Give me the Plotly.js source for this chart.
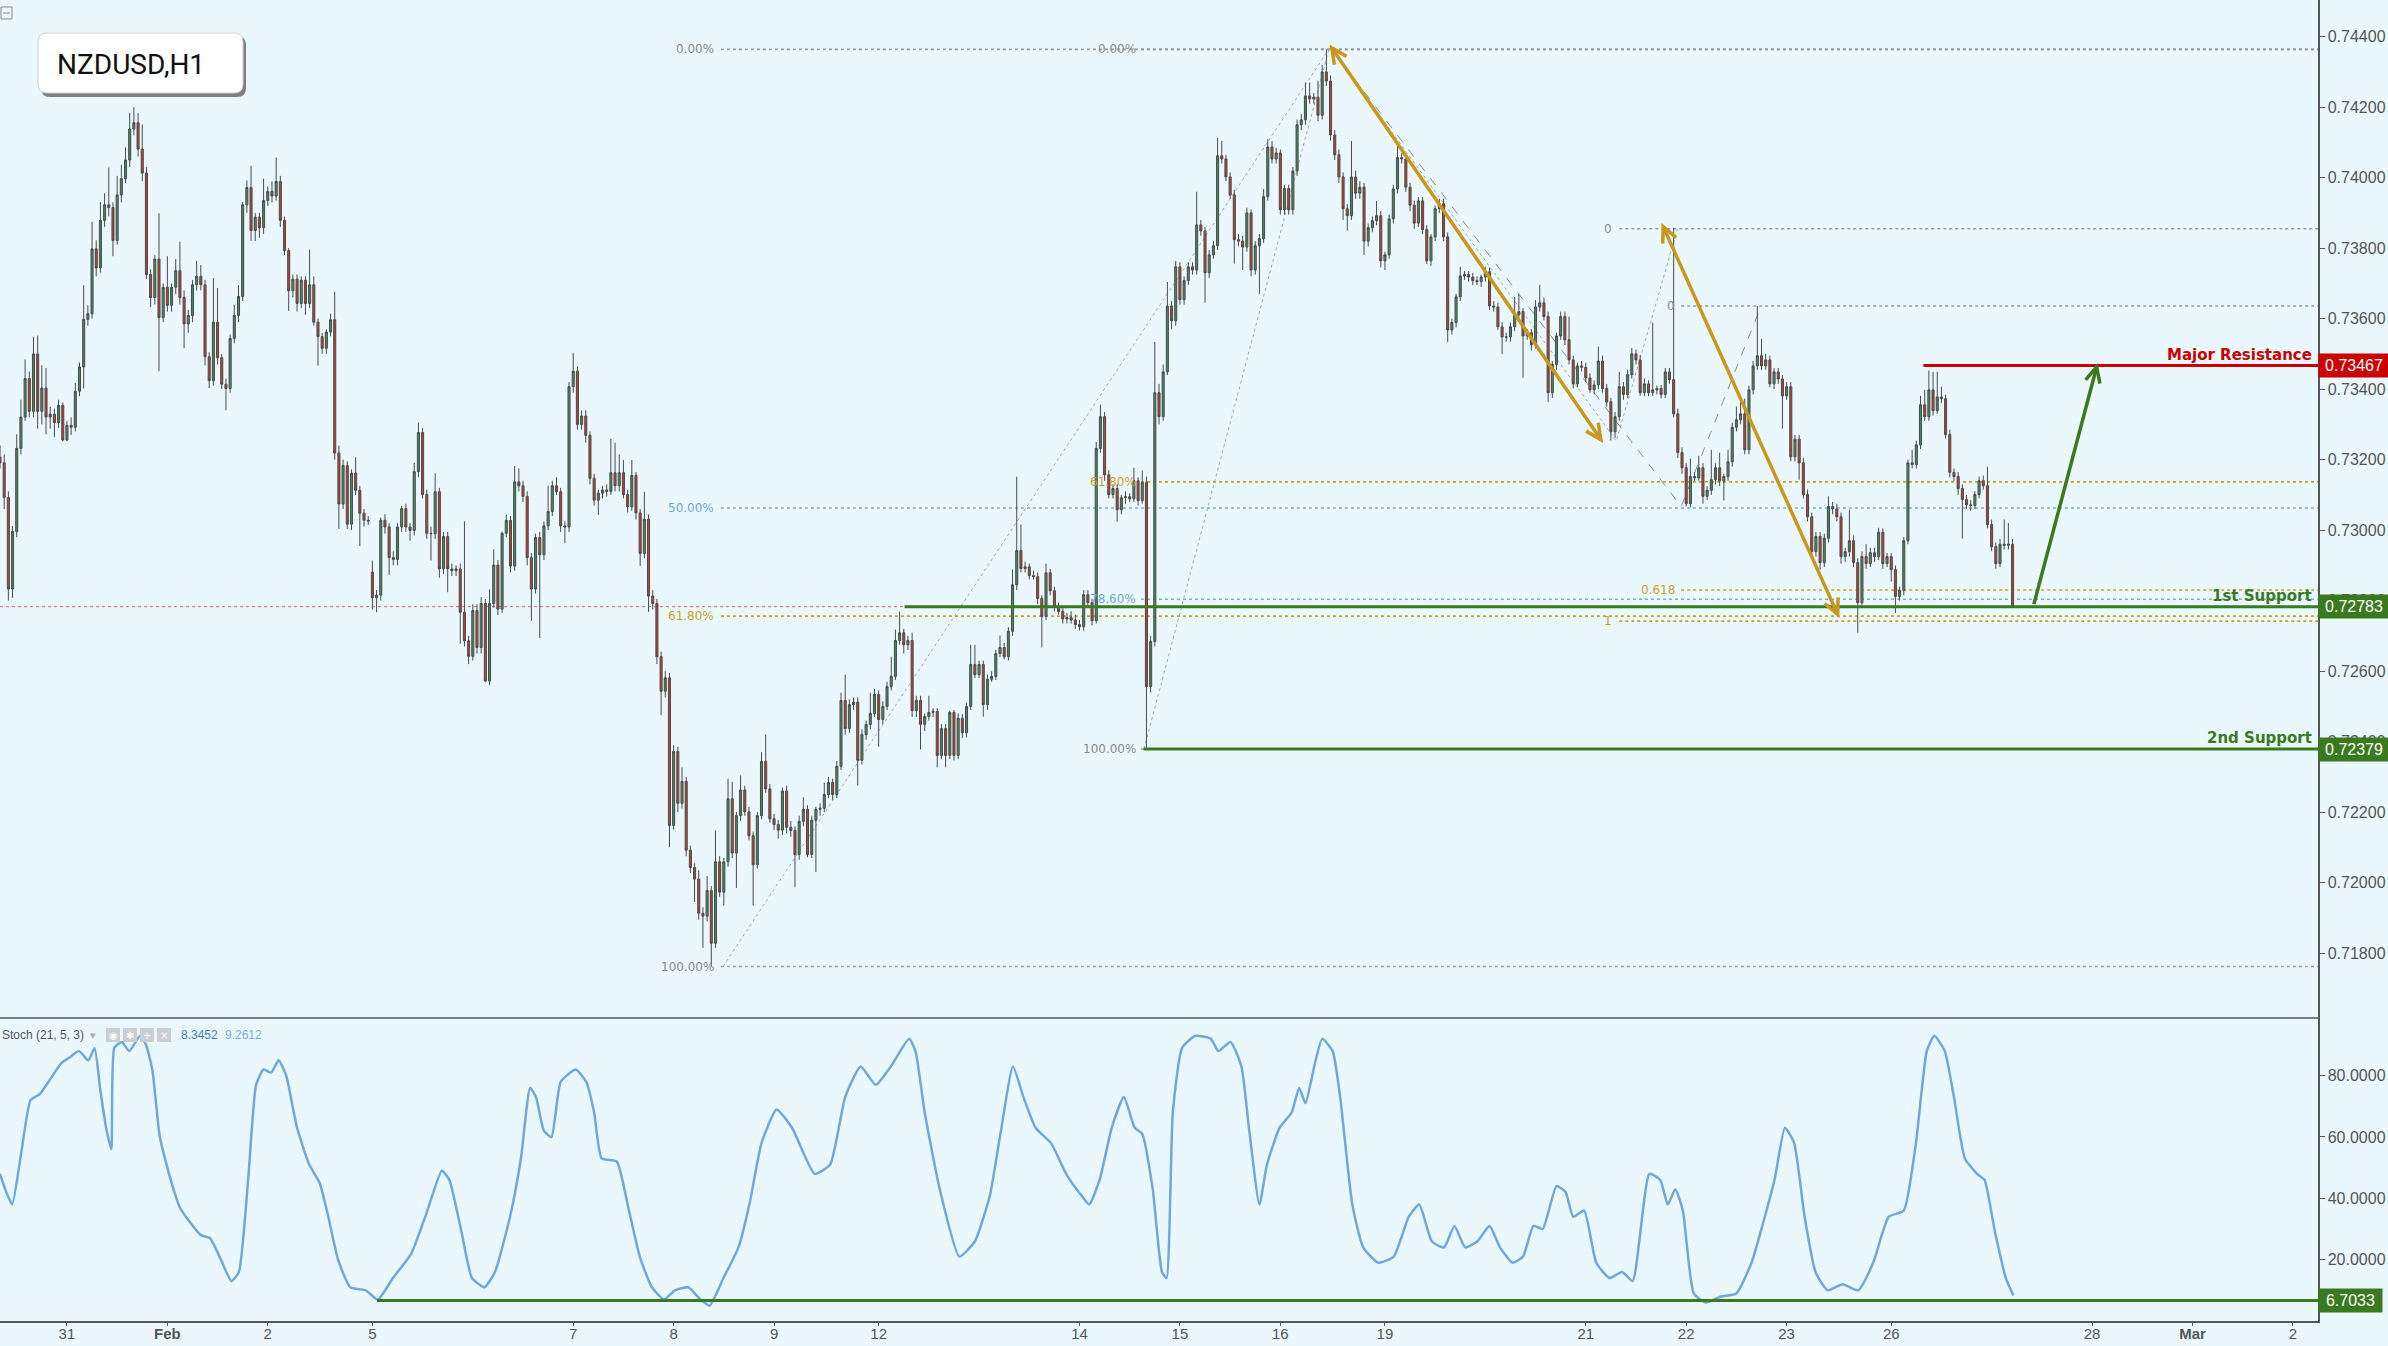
<!DOCTYPE html>
<html><head><meta charset="utf-8">
<script src="https://cdn.plot.ly/plotly-3.0.1.min.js"></script>
<style>html,body{margin:0;padding:0;background:#eaf8fe;overflow:hidden}#chart{width:2388px;height:1346px}</style>
</head><body><div id="chart"></div>
<script>
// ---------------- DATA (NZDUSD, H1) ----------------
const barOpen = [
.73207,.73191,.73093,.72833,.72996,.73232,.73321,.73430,.73337,.73500,
.73337,.73403,.73321,.73329,.73305,.73354,.73256,.73297,.73292,.73394,
.73463,.73598,.73614,.73798,.73744,.73879,.73923,.73915,.73822,.73951,
.73997,.74050,.74138,.74156,.74081,.74013,.73725,.73660,.73769,.73603,
.73689,.73638,.73689,.73736,.73660,.73585,.73609,.73696,.73720,.73696,
.73492,.73424,.73590,.73489,.73414,.73402,.73544,.73609,.73663,.73923,
.73972,.73850,.73888,.73858,.73935,.73961,.73948,.73989,.73879,.73793,
.73679,.73712,.73643,.73709,.73643,.73696,.73590,.73549,.73516,.73562,
.73597,.73219,.73074,.73183,.73017,.73162,.73113,.73048,.73028,.72881,
.72808,.72816,.73028,.73009,.72922,.72917,.73009,.73061,.73009,.72999,
.73166,.73277,.73101,.72991,.72990,.73109,.72890,.72982,.72890,.72885,
.72890,.72767,.72686,.72642,.72772,.72667,.72792,.72572,.72792,.72901,
.72776,.72991,.73028,.72898,.73137,.73126,.73096,.72922,.72833,.72979,
.72930,.73012,.73053,.73126,.73109,.73012,.73009,.73407,.73451,.73300,
.73324,.73269,.73147,.73085,.73105,.73114,
.73110,.73163,.73126,.73163,.73101,
.73066,.73155,.73049,.72934,.73031,.72813,.72792,.72641,.72543,.72581,
.72162,.72372,.72225,.72287,.72092,.72043,.72010,.71913,.71905,.71978,
.71828,.72059,.71973,.72059,.72238,.72084,.72190,.72263,.72201,.72133,
.72051,.72190,.72344,.72266,.72181,.72165,.72149,.72260,
.72157,.72148,.72080,.72174,.72208,.72080,.72177,.72208,.72211,.72250,
.72284,.72250,.72330,.72517,.72437,.72505,.72512,.72347,.72420,.72449,
.72480,.72534,.72463,.72500,.72556,.72585,.72687,.72709,.72675,.72687,
.72488,.72517,.72449,.72471,.72483,.72486,.72361,.72437,.72361,.72483,
.72361,.72466,.72425,.72500,.72619,.72590,.72619,.72505,.72577,.72585,
.72650,.72667,.72641,.72713,.72845,.72942,.72891,.72896,.72871,.72868,
.72806,.72755,.72879,.72828,.72782,.72769,.72748,.72752,
.72745,.72732,.72726,.72817,.72795,.72743,.73232,.73322,.73157,.73101,.73118,.73058,.73092,
.73095,.73089,.73140,.73084,
.73135,.72556,.72684,.73390,.73322,.73449,.73636,.73594,.73747,.73654,
.73708,.73747,.73738,.73866,.73849,.73730,.73781,.73807,.74062,.74053,
.74002,.73951,.73824,.73820,.73803,.73900,.73738,.73807,.73827,.73946,
.74087,.74053,.74070,.73909,.73969,.73909,.74019,.74150,.74164,.74232,
.74223,.74228,.74177,.74300,.74274,.74121,.74065,.74002,.73912,.73892,
.74002,.73956,.73973,.73820,.73858,.73878,.73892,.73764,.73781,.73883,
.73968,.74057,.74053,.73973,.73922,.73871,.73934,.73853,.73764,.73832,
.73912,.73926,.73832,.73568,.73589,.73662,.73721,.73725,.73718,.73708,
.73705,.73718,.73733,.73636,.73633,.73577,.73548,.73548,.73577,.73611,
.73620,.73551,.73560,.73526,.73633,.73645,.73606,.73390,.73470,.73551,
.73606,.73540,.73483,.73415,.73466,.73462,.73432,.73398,.73412,.73480,
.73402,.73364,.73279,.73322,.73407,.73385,.73441,.73500,.73483,.73390,
.73415,.73390,.73398,.73402,.73385,.73449,.73427,.73330,.73220,.73177,
.73075,.73152,.73148,.73177,.73096,.73113,.73143,.73177,.73140,.73152,
.73194,.73292,.73313,.73330,.73228,.73398,.73466,.73495,.73466,.73483,
.73415,.73449,.73429,.73381,.73407,.73208,.73258,.73191,.73101,.73038,
.72939,.72982,.72908,.72977,.73067,
.73060,.73038,.72925,.72939,.72970,.72908,.72794,.72925,.72905,.72936,
.72925,.72994,.72905,.72925,.72888,.72812,.72829,.72970,.73191,.73186,
.73242,.73356,.73322,.73398,.73339,.73378,.73373,.73271,.73164,.73152,
.73118,.73087,.73072,.73070,.73101,.73140,.73126,.73016,.72953,.72905,
.72960,.72957,.72960];

const barHigh = [
.73240,.73215,.73110,.73012,.73272,.73370,.73484,.73450,.73549,.73552,
.73468,.73460,.73350,.73345,.73370,.73362,.73310,.73320,.73418,.73476,
.73695,.73638,.73875,.73822,.73931,.73956,.74029,.73930,.74005,.74037,
.74086,.74184,.74200,.74184,.74151,.74030,.73740,.73780,.73899,.73700,
.73777,.73700,.73769,.73818,.73680,.73625,.73710,.73764,.73752,.73710,
.73505,.73715,.73687,.73500,.73430,.73555,.73639,.73695,.73931,.73992,
.74034,.73900,.73900,.73997,.73975,.73989,.74057,.74005,.73890,.73800,
.73725,.73725,.73720,.73720,.73796,.73720,.73600,.73560,.73570,.73614,
.73676,.73240,.73200,.73195,.73172,.73207,.73125,.73060,.73040,.72914,
.72830,.73036,.73045,.73020,.72940,.73020,.73069,.73075,.73020,.73191,
.73305,.73290,.73115,.73010,.73161,.73120,.72995,.72995,.72905,.72900,
.72905,.73025,.72700,.72790,.72790,.72810,.72805,.72832,.72946,.72915,
.72996,.73044,.73040,.73182,.73175,.73140,.73110,.72935,.72990,.72995,
.73025,.73126,.73140,.73150,.73120,.73025,.73420,.73503,.73465,.73340,
.73340,.73280,.73160,.73115,.73125,.73130,
.73259,.73248,.73215,.73199,.73115,
.73199,.73165,.73060,.73109,.73045,.72830,.72805,.72655,.72600,.72595,
.72390,.72385,.72327,.72300,.72105,.72055,.72035,.71930,.72019,.71990,
.72148,.72075,.72070,.72295,.72286,.72200,.72304,.72275,.72215,.72145,
.72200,.72370,.72420,.72280,.72195,.72178,.72270,.72275,
.72175,.72160,.72190,.72242,.72220,.72190,.72215,.72225,.72284,.72300,
.72295,.72345,.72539,.72590,.72520,.72525,.72525,.72435,.72460,.72539,
.72550,.72545,.72515,.72570,.72641,.72718,.72769,.72720,.72700,.72709,
.72530,.72530,.72480,.72530,.72495,.72495,.72450,.72450,.72488,.72490,
.72480,.72478,.72510,.72675,.72675,.72630,.72630,.72590,.72600,.72660,
.72701,.72680,.72725,.72888,.73152,.73016,.72910,.72905,.72885,.72880,
.72815,.72905,.72890,.72840,.72795,.72780,.72765,.72770,
.72760,.72745,.72830,.72830,.72805,.73250,.73356,.73335,.73170,.73130,.73130,.73100,.73110,
.73105,.73177,.73150,.73169,
.73152,.72700,.73534,.73415,.73470,.73704,.73650,.73764,.73760,.73720,
.73760,.73760,.73960,.73880,.73860,.73795,.73820,.74113,.74104,.74065,
.74015,.73965,.73840,.73835,.73915,.73910,.73820,.73840,.73968,.74109,
.74104,.74085,.74080,.73980,.73980,.74030,.74165,.74181,.74270,.74270,
.74240,.74275,.74320,.74364,.74290,.74135,.74080,.74015,.73925,.74104,
.74020,.73990,.73985,.73870,.73890,.73934,.73905,.73790,.73895,.73980,
.74096,.74070,.74065,.73985,.73935,.73945,.73945,.73865,.73840,.73920,
.73940,.73940,.73845,.73600,.73670,.73747,.73735,.73735,.73730,.73720,
.73725,.73747,.73745,.73650,.73645,.73590,.73560,.73590,.73662,.73670,
.73630,.73570,.73570,.73653,.73696,.73660,.73620,.73480,.73560,.73620,
.73620,.73606,.73495,.73475,.73480,.73475,.73445,.73425,.73521,.73495,
.73415,.73375,.73335,.73449,.73420,.73455,.73517,.73512,.73497,.73430,
.73425,.73589,.73410,.73412,.73460,.73460,.73858,.73345,.73235,.73190,
.73203,.73165,.73211,.73190,.73125,.73228,.73190,.73220,.73160,.73228,
.73305,.73351,.73364,.73373,.73410,.73480,.73636,.73543,.73500,.73495,
.73460,.73460,.73440,.73420,.73420,.73270,.73270,.73205,.73115,.73050,
.72995,.72995,.72990,.73096,.73080,
.73075,.73050,.72950,.73058,.72985,.72920,.72940,.72960,.72950,.72950,
.73007,.73005,.72935,.72935,.72900,.72840,.72980,.73200,.73228,.73254,
.73381,.73398,.73453,.73449,.73449,.73407,.73385,.73285,.73175,.73165,
.73130,.73100,.73085,.73110,.73152,.73155,.73180,.73030,.72965,.72975,
.73030,.73020,.72975];

const barLow = [
.73175,.73060,.72800,.72808,.72980,.73215,.73310,.73320,.73320,.73288,
.73300,.73272,.73288,.73264,.73290,.73252,.73252,.73270,.73280,.73380,
.73402,.73580,.73600,.73720,.73730,.73860,.73890,.73777,.73810,.73930,
.73985,.74030,.74120,.74060,.73990,.73712,.73633,.73640,.73451,.73590,
.73620,.73620,.73670,.73640,.73516,.73560,.73590,.73680,.73680,.73467,
.73403,.73410,.73470,.73400,.73340,.73390,.73530,.73590,.73650,.73900,
.73820,.73820,.73830,.73840,.73920,.73930,.73935,.73860,.73780,.73622,
.73660,.73620,.73630,.73611,.73630,.73580,.73467,.73500,.73500,.73550,
.73200,.73003,.73060,.73003,.73000,.73100,.72955,.73010,.73015,.72775,
.72767,.72800,.72990,.72873,.72900,.72900,.72995,.72995,.72970,.72985,
.73150,.73090,.72975,.72914,.72975,.72865,.72875,.72824,.72870,.72870,
.72678,.72670,.72620,.72630,.72650,.72650,.72569,.72560,.72780,.72760,
.72765,.72980,.72880,.72885,.73110,.73080,.72900,.72743,.72820,.72694,
.72915,.73000,.73040,.73100,.72995,.72963,.72995,.73390,.73285,.73285,
.73248,.73130,.73070,.73043,.73090,.73095,
.73100,.73110,.73110,.73090,.73050,
.73055,.73030,.72898,.72920,.72768,.72775,.72620,.72475,.72525,.72100,
.72150,.72200,.72210,.72075,.72027,.71945,.71895,.71815,.71890,.71762,
.71815,.71960,.71935,.72045,.72070,.71985,.72175,.72190,.72120,.71935,
.72040,.72180,.72255,.72170,.72150,.72125,.72135,.72140,
.72130,.71987,.72065,.72160,.72072,.72070,.72030,.72190,.72200,.72240,
.72235,.72240,.72320,.72420,.72425,.72490,.72276,.72335,.72405,.72435,
.72470,.72385,.72450,.72490,.72545,.72575,.72675,.72650,.72660,.72470,
.72470,.72378,.72430,.72460,.72470,.72327,.72350,.72327,.72350,.72347,
.72350,.72410,.72412,.72490,.72580,.72580,.72471,.72490,.72570,.72575,
.72640,.72633,.72630,.72700,.72830,.72880,.72880,.72860,.72860,.72790,
.72667,.72745,.72815,.72770,.72760,.72735,.72735,.72735,
.72720,.72715,.72715,.72780,.72730,.72735,.73220,.73140,.73090,.73090,.73024,.73045,.73075,
.73080,.73080,.73070,.73075,
.72379,.72540,.72670,.73300,.73310,.73440,.73570,.73580,.73640,.73640,
.73695,.73725,.73725,.73835,.73645,.73715,.73770,.73795,.74040,.73990,
.73940,.73756,.73805,.73738,.73790,.73720,.73725,.73670,.73815,.73935,
.74040,.74040,.73895,.73895,.73895,.73895,.74005,.74135,.74150,.74210,
.74210,.74160,.74165,.74260,.74105,.74050,.73985,.73880,.73850,.73880,
.73940,.73940,.73781,.73805,.73845,.73865,.73745,.73738,.73770,.73870,
.73955,.74040,.73960,.73905,.73855,.73860,.73840,.73755,.73750,.73820,
.73900,.73820,.73534,.73555,.73575,.73650,.73710,.73705,.73695,.73695,
.73690,.73705,.73625,.73620,.73568,.73500,.73535,.73535,.73565,.73600,
.73432,.73540,.73510,.73515,.73620,.73595,.73364,.73375,.73455,.73540,
.73525,.73470,.73402,.73405,.73450,.73420,.73390,.73385,.73400,.73390,
.73350,.73254,.73262,.73310,.73370,.73375,.73430,.73470,.73381,.73380,
.73380,.73380,.73385,.73373,.73375,.73415,.73320,.73205,.73160,.73067,
.73065,.73140,.73140,.73075,.73085,.73100,.73130,.73125,.73084,.73140,
.73180,.73280,.73300,.73215,.73215,.73385,.73455,.73455,.73455,.73405,
.73400,.73415,.73288,.73370,.73195,.73195,.73143,.73090,.73025,.72922,
.72925,.72888,.72895,.72965,.73045,
.73025,.72905,.72910,.72925,.72895,.72709,.72780,.72890,.72895,.72910,
.72915,.72890,.72895,.72854,.72765,.72800,.72815,.72960,.73175,.73175,
.73230,.73310,.73310,.73325,.73330,.73360,.73260,.73150,.73140,.73100,
.72976,.73060,.73055,.73060,.73090,.73115,.73005,.72940,.72890,.72895,
.72945,.72945,.72783];

const barClose = [
.73191,.73093,.72833,.72996,.73232,.73321,.73430,.73337,.73500,.73337,
.73403,.73321,.73329,.73305,.73354,.73256,.73297,.73292,.73394,.73463,
.73598,.73614,.73798,.73744,.73879,.73923,.73915,.73822,.73951,.73997,
.74050,.74138,.74156,.74081,.74013,.73725,.73660,.73769,.73603,.73689,
.73638,.73689,.73736,.73660,.73585,.73609,.73696,.73720,.73696,.73492,
.73424,.73590,.73489,.73414,.73402,.73544,.73609,.73663,.73923,.73972,
.73850,.73888,.73858,.73935,.73961,.73948,.73989,.73879,.73793,.73679,
.73712,.73643,.73709,.73643,.73696,.73590,.73549,.73516,.73562,.73597,
.73219,.73074,.73183,.73017,.73162,.73113,.73048,.73028,.73026,.72808,
.72816,.73028,.73009,.72922,.72917,.73009,.73061,.73009,.72999,.73166,
.73277,.73101,.72991,.72990,.73109,.72890,.72982,.72890,.72885,.72890,
.72767,.72686,.72642,.72772,.72667,.72792,.72572,.72792,.72901,.72776,
.72991,.73028,.72898,.73137,.73126,.73096,.72922,.72833,.72979,.72930,
.73012,.73053,.73126,.73109,.73012,.73009,.73407,.73451,.73300,.73324,
.73269,.73147,.73085,.73105,.73114,.73110,
.73163,.73126,.73163,.73101,.73066,
.73155,.73049,.72934,.73031,.72813,.72792,.72641,.72543,.72581,.72162,
.72372,.72225,.72287,.72092,.72043,.72010,.71913,.71905,.71978,.71828,
.72059,.71973,.72059,.72238,.72084,.72190,.72263,.72201,.72133,.72051,
.72190,.72344,.72266,.72181,.72165,.72149,.72260,.72157,
.72148,.72080,.72174,.72208,.72080,.72177,.72208,.72211,.72250,.72284,
.72250,.72330,.72517,.72437,.72505,.72512,.72347,.72420,.72449,.72480,
.72534,.72463,.72500,.72556,.72585,.72687,.72709,.72675,.72687,.72488,
.72517,.72449,.72471,.72483,.72486,.72361,.72437,.72361,.72483,.72361,
.72466,.72425,.72500,.72619,.72590,.72619,.72505,.72577,.72585,.72650,
.72667,.72641,.72713,.72845,.72942,.72891,.72896,.72871,.72868,.72806,
.72755,.72879,.72828,.72782,.72769,.72748,.72752,.72745,
.72732,.72726,.72817,.72795,.72743,.73232,.73322,.73157,.73101,.73118,.73058,.73092,.73095,
.73089,.73140,.73084,.73135,
.72556,.72684,.73390,.73322,.73449,.73636,.73594,.73747,.73654,.73708,
.73747,.73738,.73866,.73849,.73730,.73781,.73807,.74062,.74053,.74002,
.73951,.73824,.73820,.73803,.73900,.73738,.73807,.73827,.73946,.74087,
.74053,.74070,.73909,.73969,.73909,.74019,.74150,.74164,.74232,.74223,
.74228,.74177,.74300,.74274,.74121,.74065,.74002,.73912,.73892,.74002,
.73956,.73973,.73820,.73858,.73878,.73892,.73764,.73781,.73883,.73968,
.74057,.74053,.73973,.73922,.73871,.73934,.73853,.73764,.73832,.73912,
.73926,.73832,.73568,.73589,.73662,.73721,.73725,.73718,.73708,.73705,
.73718,.73733,.73636,.73633,.73577,.73548,.73548,.73577,.73611,.73620,
.73551,.73560,.73526,.73633,.73645,.73606,.73390,.73470,.73551,.73606,
.73540,.73483,.73415,.73466,.73462,.73432,.73398,.73412,.73480,.73402,
.73364,.73279,.73322,.73407,.73385,.73441,.73500,.73483,.73390,.73415,
.73390,.73398,.73402,.73385,.73449,.73427,.73330,.73220,.73177,.73075,
.73152,.73148,.73177,.73096,.73113,.73143,.73177,.73140,.73152,.73194,
.73292,.73313,.73330,.73228,.73398,.73466,.73495,.73466,.73483,.73415,
.73449,.73429,.73381,.73407,.73208,.73258,.73191,.73101,.73038,.72939,
.72982,.72908,.72977,.73067,.73060,
.73038,.72925,.72939,.72970,.72908,.72794,.72925,.72905,.72936,.72925,
.72994,.72905,.72925,.72888,.72812,.72829,.72970,.73191,.73186,.73242,
.73356,.73322,.73398,.73339,.73378,.73373,.73271,.73164,.73152,.73118,
.73087,.73072,.73070,.73101,.73140,.73126,.73016,.72953,.72905,.72960,
.72957,.72960,.72783];

// Stochastic (21,5,3): bar position -> value
const stochBar = [0,1.5,2.9,5.1,7.3,9.5,11.6,14.6,16.7,18.9,21.1,22.6,24,25.5,26.6,27.3,29.1,30.9,33.5,34.9,
36.4,38.2,40.8,43,45.5,48,50.2,52.8,55.3,57.1,59.3,61.2,63,64.8,66.6,68.4,71,73.9,76.4,78.3,
80.8,83.7,87.4,90.3,93.9,98.3,101.9,105.6,107.4,110.3,112.8,115.8,118.3,121.9,124.5,126.7,128.1,130,131.8,134,
137.6,140.1,142,143.8,147.4,150,152.9,155.8,158.7,161.3,164.5,167.4,169.6,172.9,176.5,179.1,182,185.6,189.3,194.7,
198.4,202,205.7,209.3,212.9,217.3,218.8,221,224.6,229.3,233,236.6,239.1,242.1,244.6,247.5,251.2,254.8,258.4,260.3,
262.8,265.7,268.6,271.2,273,275.5,277.7,278.8,280.3,282.5,285.7,289.4,291.2,294.1,296.7,298.5,301,302.8,305.8,308.7,
310.5,312,314.1,316,318.5,320.3,323.2,325.8,329.4,333.1,336.7,339.2,342.2,345.1,347.6,350.2,353.1,356,358.5,361.5,
364,366.5,368.7,372,374.2,376,378.6,381.5,384.7,387.7,390.2,394.2,396.8,398.6,400.4,402.2,404.8,407.7,411.3,415,
418.6,424.1,426.6,428.8,431.3,433.9,436.8,440.4,444.1,447.7,451.4,455,457.9,460.5,462.3,464.8,467,469.6,472.5,474.3,
476.8,479.4,481.2];
const stochK = [48,42,38,55,72,74,78,84,86,88,85,89,75,62,56,89,91,88,93,90,
82,60,46,37,32,28,27,20,13,16,46,77,82,81,85,80,63,51,45,35,
20,11,10,7,14,22,35,49,46,29,14,11,16,34,53,76,73,62,60,78,
82,78,68,53,52,38,21,11,7,10,11,7,5,14,24,38,58,69,63,48,
51,73,83,77,83,92,88,68,43,21,26,41,61,83,73,63,58,48,41,38,
46,63,73,63,61,43,16,14,68,89,93,92,88,91,83,63,38,51,63,68,
76,71,83,92,88,73,38,24,19,21,34,38,26,24,31,24,26,31,24,19,
21,31,30,44,42,34,36,19,14,16,13,48,46,38,43,36,9,6,8,9,
19,46,63,58,34,16,10,12,10,19,34,36,58,88,93,88,73,53,48,46,
29,14,8.3452];

const dayTickBars = [16,40,64,89,137,161,185,210,258,282,306,331,379,403,427,452,500,524,548];
const dayTickLabels = ['31','<b>Feb</b>','2','5','7','8','9','12','14','15','16','19','21','22','23','26','28','<b>Mar</b>','2'];
const priceTicks = [0.718,0.720,0.722,0.724,0.726,0.728,0.730,0.732,0.734,0.736,0.738,0.740,0.742,0.744];
const stochTicks = [20,40,60,80];

const majorResistance = 0.73467, firstSupport = 0.72783, secondSupport = 0.72379;
const stochLevel = 6.7033, lastPrice = 0.72783;
const resistanceFrom = 459.7, support1From = 216.2, support2From = 273.3, stochLevelFrom = 90.1;
const stochLegend = ['8.3452','9.2612'];

// Fibonacci tools: levels, labels, colour keys, start bar, label bar
const fibALevels = [0.74364,0.73063,0.72756,0.71762], fibALabels = ['0.00%','50.00%','61.80%','100.00%'], fibAColors = ['g','b','y','g'];
const fibBLevels = [0.74364,0.73137,0.72804,0.72379], fibBLabels = ['0.00%','61.80%','78.60%','100.00%'], fibBColors = ['g','y','b','g'];
const fibC1Levels = [0.73855,0.72742], fibC1Labels = ['0','1'], fibC1Colors = ['g','y'];
const fibC2Levels = [0.73636,0.72830], fibC2Labels = ['0','0.618'], fibC2Colors = ['g','y'];
const fibStarts = [172.3, 272.7, 387.0, 401.8];
const fibLabelAt = [171.1, 272.0, 385.8, 400.9];

// trend / anchor lines (bar, price)
const fibADiag = [[172.8,0.71762],[317.6,0.74364]];
const fibBDiag = [[273.4,0.72379],[317.6,0.74364]];
const fibC1Path = [[318.3,0.74364],[386.3,0.73253],[401.0,0.73858]];
const fibC2Path = [[318.3,0.74364],[401.8,0.73067],[420.9,0.73636]];
const goldArrow1 = [[318.3,0.74368],[382.6,0.73257]];
const goldArrow2 = [[397.5,0.73861],[439.2,0.72761]];
const greenArrow = [[486.1,0.72790],[501.1,0.73463]];

// ---------------- LAYOUT / DRAWING ----------------
const BG = '#eaf8fe';
const PLOT_W = 2318, PLOT_H = 1321, MAIN_H = 1018;
const SPLIT = 1 - MAIN_H / PLOT_H;
const X_RANGE = [0, 554];
const PRICE_RANGE = [0.71616, 0.74504];
const STOCH_RANGE = [0, 98.8];
const GREEN = '#3a7a1e', RED = '#cc0000', GOLD = '#c9971c';
const FIBC = {g:'#9a9a9a', b:'#78afe2', y:'#caa126'};
const LABC = {g:'#8a8a8a', b:'#6fa8dc', y:'#c9a227'};

const nBars = Math.min(barOpen.length, barHigh.length, barLow.length, barClose.length);
const barIndex = [];
for (let i = 0; i < nBars; i++) barIndex.push(i);

function toPx(x, p) {
  return [(x - X_RANGE[0]) / (X_RANGE[1] - X_RANGE[0]) * PLOT_W,
          (PRICE_RANGE[1] - p) / (PRICE_RANGE[1] - PRICE_RANGE[0]) * MAIN_H];
}
function fromPx(a, b) {
  return [X_RANGE[0] + a / PLOT_W * (X_RANGE[1] - X_RANGE[0]),
          PRICE_RANGE[1] - b / MAIN_H * (PRICE_RANGE[1] - PRICE_RANGE[0])];
}
function headPath(tip, tail, len, ang) {
  const t = toPx(tip[0], tip[1]), s = toPx(tail[0], tail[1]);
  const dx = s[0] - t[0], dy = s[1] - t[1], d = Math.hypot(dx, dy);
  const ux = dx / d, uy = dy / d;
  const w = [ang, -ang].map(a => {
    const c = Math.cos(a), sn = Math.sin(a);
    return fromPx(t[0] + len * (ux * c - uy * sn), t[1] + len * (ux * sn + uy * c));
  });
  return `M${w[0][0]},${w[0][1]} L${tip[0]},${tip[1]} L${w[1][0]},${w[1][1]}`;
}
function pathOf(pts) { return pts.map((p, i) => (i ? 'L' : 'M') + p[0] + ',' + p[1]).join(' '); }
function pp(x, y) { return [x / PLOT_W, 1 - y / PLOT_H]; }
function roundRect(x0, y0, x1, y1, r) {
  const P = (x, y) => { const q = pp(x, y); return q[0] + ',' + q[1]; };
  return `M${P(x0 + r, y0)} L${P(x1 - r, y0)} Q${P(x1, y0)} ${P(x1, y0 + r)} L${P(x1, y1 - r)} Q${P(x1, y1)} ${P(x1 - r, y1)} L${P(x0 + r, y1)} Q${P(x0, y1)} ${P(x0, y1 - r)} L${P(x0, y0 + r)} Q${P(x0, y0)} ${P(x0 + r, y0)} Z`;
}

const shapes = [];
const annotations = [];

// last price dotted line
shapes.push({type:'line', xref:'x', yref:'y', x0:X_RANGE[0], x1:X_RANGE[1], y0:lastPrice, y1:lastPrice, layer:'below',
  line:{color:'#e06060', width:1, dash:'dot'}});

// fib levels
[[fibALevels, fibALabels, fibAColors], [fibBLevels, fibBLabels, fibBColors],
 [fibC1Levels, fibC1Labels, fibC1Colors], [fibC2Levels, fibC2Labels, fibC2Colors]].forEach((f, k) => {
  f[0].forEach((lv, j) => {
    shapes.push({type:'line', xref:'x', yref:'y', x0:fibStarts[k], x1:X_RANGE[1], y0:lv, y1:lv, layer:'below',
      line:{color:FIBC[f[2][j]], width:1.6, dash:'dot'}});
    annotations.push({xref:'x', yref:'y', x:fibLabelAt[k], y:lv, xanchor:'right', yanchor:'middle', showarrow:false,
      text:f[1][j], font:{family:'DejaVu Sans', size:12, color:LABC[f[2][j]]}});
  });
});

// anchor diagonals
[fibADiag, fibBDiag, fibC1Path].forEach(p => shapes.push({type:'path', xref:'x', yref:'y', path:pathOf(p), layer:'below',
  line:{color:'#a8a8a8', width:1, dash:'dot'}, fillcolor:'rgba(0,0,0,0)'}));
shapes.push({type:'path', xref:'x', yref:'y', path:pathOf(fibC2Path), layer:'below',
  line:{color:'#8c8c8c', width:1, dash:'dash'}, fillcolor:'rgba(0,0,0,0)'});

// key levels
shapes.push({type:'line', xref:'x', yref:'y', x0:resistanceFrom, x1:X_RANGE[1], y0:majorResistance, y1:majorResistance, line:{color:RED, width:3}});
shapes.push({type:'line', xref:'x', yref:'y', x0:support1From, x1:X_RANGE[1], y0:firstSupport, y1:firstSupport, line:{color:GREEN, width:3}});
shapes.push({type:'line', xref:'x', yref:'y', x0:support2From, x1:X_RANGE[1], y0:secondSupport, y1:secondSupport, line:{color:GREEN, width:3}});
shapes.push({type:'line', xref:'x', yref:'y2', x0:stochLevelFrom, x1:X_RANGE[1], y0:stochLevel, y1:stochLevel, line:{color:GREEN, width:3}});

// arrows
function arrow(pts, color, width, both) {
  shapes.push({type:'line', xref:'x', yref:'y', x0:pts[0][0], y0:pts[0][1], x1:pts[1][0], y1:pts[1][1], line:{color, width}});
  shapes.push({type:'path', xref:'x', yref:'y', path:headPath(pts[1], pts[0], 17, 0.45), line:{color, width}, fillcolor:'rgba(0,0,0,0)'});
  if (both) shapes.push({type:'path', xref:'x', yref:'y', path:headPath(pts[0], pts[1], 17, 0.45), line:{color, width}, fillcolor:'rgba(0,0,0,0)'});
}
arrow(goldArrow1, GOLD, 3.5, true);
arrow(goldArrow2, GOLD, 3.5, true);
arrow(greenArrow, GREEN, 3.5, false);

// level labels
function levelLabel(txt, y, color) {
  annotations.push({xref:'paper', yref:'y', x:2313 / PLOT_W, y, xanchor:'right', yanchor:'bottom', showarrow:false,
    text:'<b>' + txt + '</b>', font:{family:'DejaVu Sans', size:15, color}, borderpad:0, yshift:1});
}
levelLabel('Major Resistance', majorResistance, RED);
levelLabel('1st Support', firstSupport, GREEN);
levelLabel('2nd Support', secondSupport, GREEN);

// axis tags
function tag(txt, y, yref, bg, w) {
  annotations.push({xref:'paper', yref, x:1, y, xanchor:'left', yanchor:'middle', showarrow:false, text:txt,
    bgcolor:bg, borderpad:3, width:w, height:17, align:'center',
    font:{family:'Liberation Sans, Arial, sans-serif', size:16, color:'#ffffff'}});
}
tag(majorResistance.toFixed(5), majorResistance, 'y', RED, 64);
tag(firstSupport.toFixed(5), firstSupport, 'y', GREEN, 64);
tag(secondSupport.toFixed(5), secondSupport, 'y', GREEN, 64);
tag(stochLevel.toFixed(4), stochLevel, 'y2', GREEN, 57);

// pane separator
shapes.push({type:'line', xref:'paper', yref:'paper', x0:0, x1:1, y0:SPLIT, y1:SPLIT, line:{color:'#555', width:1.5}});

// symbol box
shapes.push({type:'path', xref:'paper', yref:'paper', path:roundRect(41, 36, 246, 97, 9), fillcolor:'rgba(50,50,50,0.6)', line:{width:0}});
shapes.push({type:'path', xref:'paper', yref:'paper', path:roundRect(38, 33, 243, 93, 9), fillcolor:'#ffffff', line:{color:'#d0d0d0', width:1}});
annotations.push({xref:'paper', yref:'paper', x:55 / PLOT_W, y:1 - 64 / PLOT_H, xanchor:'left', yanchor:'middle', showarrow:false,
  text:'NZDUSD,H1', font:{family:'Roboto, Open Sans, sans-serif', size:28, color:'#111'}});
// collapse icon
const ic0 = pp(1, 7), ic1 = pp(12, 19), icm = pp(3, 13), icn = pp(10, 13);
shapes.push({type:'rect', xref:'paper', yref:'paper', x0:ic0[0], y0:ic1[1], x1:ic1[0], y1:ic0[1], line:{color:'#888', width:1}, fillcolor:'rgba(0,0,0,0)'});
shapes.push({type:'line', xref:'paper', yref:'paper', x0:icm[0], y0:icm[1], x1:icn[0], y1:icn[1], line:{color:'#888', width:1}});

// stoch legend
const legY = 1 - 1035 / PLOT_H;
annotations.push({xref:'paper', yref:'paper', x:0, y:legY, xanchor:'left', yanchor:'middle', showarrow:false,
  text:'Stoch (21, 5, 3)', font:{family:'Liberation Sans, Arial', size:12, color:'#555'}});
annotations.push({xref:'paper', yref:'paper', x:88 / PLOT_W, y:legY, xanchor:'left', yanchor:'middle', showarrow:false,
  text:'▾', font:{family:'DejaVu Sans', size:11, color:'#aaa'}});
[106, 123, 140, 157].forEach((x, i) => {
  const a = pp(x, 1028), b = pp(x + 14, 1042);
  shapes.push({type:'rect', xref:'paper', yref:'paper', x0:a[0], y0:b[1], x1:b[0], y1:a[1], fillcolor:'#c9ced2', line:{width:0}});
  annotations.push({xref:'paper', yref:'paper', x:(x + 7) / PLOT_W, y:legY, xanchor:'center', yanchor:'middle', showarrow:false,
    text:['◉','✱','+','×'][i], font:{family:'DejaVu Sans', size:10, color:'#ffffff'}});
});
annotations.push({xref:'paper', yref:'paper', x:179 / PLOT_W, y:legY, xanchor:'left', yanchor:'middle', showarrow:false,
  text:stochLegend[0], font:{family:'Liberation Sans, Arial', size:12, color:'#3f7fc4'}});
annotations.push({xref:'paper', yref:'paper', x:223 / PLOT_W, y:legY, xanchor:'left', yanchor:'middle', showarrow:false,
  text:stochLegend[1], font:{family:'Liberation Sans, Arial', size:12, color:'#74aee6'}});

const axisFont = {family:'Liberation Sans, Arial, sans-serif', size:16, color:'#555'};

const traces = [
  {type:'candlestick', x:barIndex, open:barOpen.slice(0, nBars), high:barHigh.slice(0, nBars), low:barLow.slice(0, nBars), close:barClose.slice(0, nBars),
   xaxis:'x', yaxis:'y', whiskerwidth:0, hoverinfo:'skip',
   increasing:{fillcolor:'#3d8c5c', line:{color:'#4a4a4a', width:1}},
   decreasing:{fillcolor:'#c43b2c', line:{color:'#4a4a4a', width:1}}},
  {type:'scatter', mode:'lines', x:stochBar, y:stochK, xaxis:'x', yaxis:'y2', hoverinfo:'skip',
   line:{color:'#6fa8dc', width:2.5, shape:'spline', smoothing:0.5}}
];

const layout = {
  width:2388, height:1346,
  margin:{l:0, r:70, t:0, b:25, pad:0},
  paper_bgcolor:BG, plot_bgcolor:BG,
  showlegend:false,
  font:axisFont,
  xaxis:{range:X_RANGE, anchor:'y2', tickmode:'array', tickvals:dayTickBars, ticktext:dayTickLabels,
    ticks:'outside', ticklen:3, tickcolor:'#555', ticklabelstandoff:-5, showgrid:false, zeroline:false, showline:true, linecolor:'#555', linewidth:1.5,
    rangeslider:{visible:false}, tickfont:{family:'Liberation Sans, Arial, sans-serif', size:15, color:'#555'}, fixedrange:true},
  yaxis:{domain:[SPLIT, 1], range:PRICE_RANGE, side:'right', anchor:'x', tickmode:'array', tickvals:priceTicks,
    ticktext:priceTicks.map(v => v.toFixed(5)), ticks:'outside', ticklen:5, tickcolor:'#555', showgrid:false, zeroline:false,
    showline:true, linecolor:'#555', linewidth:1.5, tickfont:axisFont, fixedrange:true},
  yaxis2:{domain:[0, SPLIT], range:STOCH_RANGE, side:'right', anchor:'x', tickmode:'array', tickvals:stochTicks,
    ticktext:stochTicks.map(v => v.toFixed(4)), ticks:'outside', ticklen:5, tickcolor:'#555', showgrid:false, zeroline:false,
    showline:true, linecolor:'#555', linewidth:1.5, tickfont:axisFont, fixedrange:true},
  shapes, annotations
};

Plotly.newPlot('chart', traces, layout, {staticPlot:true, displayModeBar:false});
</script>
</body></html>
